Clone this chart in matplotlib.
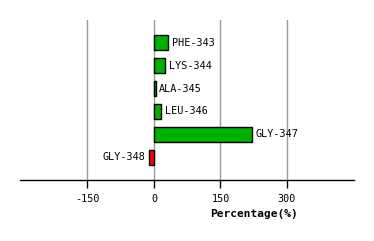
import matplotlib
matplotlib.use("Agg")
import matplotlib.pyplot as plt

residues = ["PHE-343", "LYS-344", "ALA-345", "LEU-346", "GLY-347", "GLY-348"]
values = [32, 25, 4, 17, 221, -11]
ticks = [-150, 0, 150, 300]
tick_labels = ["-150", "0", "150", "300"]

fig = plt.figure(figsize=(3.74, 2.41), dpi=100)
ax = fig.add_axes([20/374, 1 - 180/241, 334/374, 160/241])
ax.set_xlim(-302, 451)
ax.set_ylim(6, -1)

colors = ["#00b000" if v >= 0 else "#ff0000" for v in values]
ypos = list(range(len(residues)))
ax.barh(ypos, values, height=0.65, color=colors, edgecolor="black", linewidth=1, zorder=3)

for y, v, name in zip(ypos, values, residues):
    if v >= 0:
        ax.text(v + 8, y, name, va="center", ha="left", fontsize=7.3, family="DejaVu Sans Mono")
    else:
        ax.text(v - 8, y, name, va="center", ha="right", fontsize=7.3, family="DejaVu Sans Mono")

ax.set_xticks(ticks)
ax.set_xticklabels(tick_labels, fontsize=7.3, family="DejaVu Sans Mono")
ax.set_yticks([])
for s in ["top", "left", "right"]:
    ax.spines[s].set_visible(False)
ax.spines["bottom"].set_linewidth(1)
ax.tick_params(axis="x", length=6, width=1, color="black", pad=4)
ax.grid(axis="x", color="#999999", linewidth=1, zorder=0)
ax.set_axisbelow(True)

fig.text(254/374, 1 - 214/241, "Percentage(%)", ha="center", va="center",
         fontsize=8, fontweight="bold", family="DejaVu Sans Mono")

fig.savefig("out.png", dpi=100)
